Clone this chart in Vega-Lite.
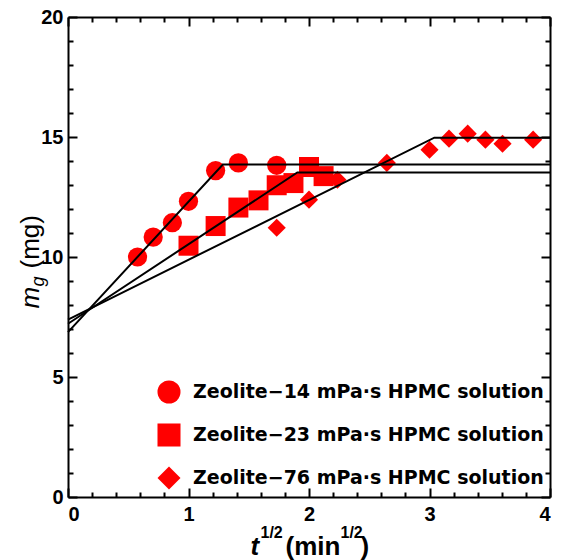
{
  "$schema": "https://vega.github.io/schema/vega-lite/v6.json",
  "width": 482,
  "height": 480,
  "autosize": {"type": "none"},
  "padding": {"left": 68, "top": 17, "right": 11, "bottom": 63},
  "background": "white",
  "config": {
    "view": {"stroke": null},
    "axis": {
      "grid": false,
      "domainColor": "black",
      "domainWidth": 2,
      "tickColor": "black",
      "tickWidth": 2,
      "labelFont": "Liberation Sans",
      "labelFontWeight": "bold",
      "labelFontSize": 20,
      "labelColor": "black",
      "titleColor": "black",
      "titleFont": "Liberation Sans",
      "titleAlign": "left",
      "titleBaseline": "alphabetic"
    },
    "legend": {
      "orient": "none",
      "legendX": 89,
      "legendY": 363,
      "title": null,
      "padding": 0,
      "labelFont": "DejaVu Sans",
      "labelFontWeight": "bold",
      "labelFontSize": 19,
      "labelColor": "black",
      "labelLimit": 0,
      "symbolSize": 530,
      "symbolFillColor": "red",
      "symbolStrokeColor": "red",
      "symbolStrokeWidth": 0,
      "symbolOpacity": 1,
      "rowPadding": 19,
      "labelOffset": 12
    }
  },
  "datasets": {
    "points": [
      {"id": 14, "series": "Zeolite−14 mPa·s HPMC solution", "x": 0.577, "y": 10.0},
      {"id": 14, "series": "Zeolite−14 mPa·s HPMC solution", "x": 0.707, "y": 10.83},
      {"id": 14, "series": "Zeolite−14 mPa·s HPMC solution", "x": 0.866, "y": 11.43},
      {"id": 14, "series": "Zeolite−14 mPa·s HPMC solution", "x": 1.0, "y": 12.32},
      {"id": 14, "series": "Zeolite−14 mPa·s HPMC solution", "x": 1.225, "y": 13.6},
      {"id": 14, "series": "Zeolite−14 mPa·s HPMC solution", "x": 1.414, "y": 13.92},
      {"id": 14, "series": "Zeolite−14 mPa·s HPMC solution", "x": 1.732, "y": 13.82},
      {"id": 23, "series": "Zeolite−23 mPa·s HPMC solution", "x": 1.0, "y": 10.47},
      {"id": 23, "series": "Zeolite−23 mPa·s HPMC solution", "x": 1.225, "y": 11.29},
      {"id": 23, "series": "Zeolite−23 mPa·s HPMC solution", "x": 1.414, "y": 12.06},
      {"id": 23, "series": "Zeolite−23 mPa·s HPMC solution", "x": 1.581, "y": 12.36},
      {"id": 23, "series": "Zeolite−23 mPa·s HPMC solution", "x": 1.732, "y": 12.99},
      {"id": 23, "series": "Zeolite−23 mPa·s HPMC solution", "x": 1.871, "y": 13.08},
      {"id": 23, "series": "Zeolite−23 mPa·s HPMC solution", "x": 2.0, "y": 13.75},
      {"id": 23, "series": "Zeolite−23 mPa·s HPMC solution", "x": 2.121, "y": 13.37},
      {"id": 76, "series": "Zeolite−76 mPa·s HPMC solution", "x": 1.732, "y": 11.22},
      {"id": 76, "series": "Zeolite−76 mPa·s HPMC solution", "x": 2.0, "y": 12.39},
      {"id": 76, "series": "Zeolite−76 mPa·s HPMC solution", "x": 2.236, "y": 13.22},
      {"id": 76, "series": "Zeolite−76 mPa·s HPMC solution", "x": 2.646, "y": 13.92},
      {"id": 76, "series": "Zeolite−76 mPa·s HPMC solution", "x": 3.0, "y": 14.47},
      {"id": 76, "series": "Zeolite−76 mPa·s HPMC solution", "x": 3.162, "y": 14.93},
      {"id": 76, "series": "Zeolite−76 mPa·s HPMC solution", "x": 3.317, "y": 15.14},
      {"id": 76, "series": "Zeolite−76 mPa·s HPMC solution", "x": 3.464, "y": 14.89},
      {"id": 76, "series": "Zeolite−76 mPa·s HPMC solution", "x": 3.606, "y": 14.72},
      {"id": 76, "series": "Zeolite−76 mPa·s HPMC solution", "x": 3.86, "y": 14.89}
    ],
    "fits": [
      {"id": 14, "x": 0, "y": 6.87},
      {"id": 14, "x": 1.285, "y": 13.85},
      {"id": 14, "x": 4, "y": 13.85},
      {"id": 23, "x": 0, "y": 7.22},
      {"id": 23, "x": 1.903, "y": 13.52},
      {"id": 23, "x": 4, "y": 13.52},
      {"id": 76, "x": 0, "y": 7.39},
      {"id": 76, "x": 3.04, "y": 14.97},
      {"id": 76, "x": 4, "y": 14.97}
    ]
  },
  "layer": [
    {
      "data": {"name": "points"},
      "transform": [{"filter": "datum.id == 14"}],
      "mark": {"type": "point", "filled": true, "color": "red", "opacity": 1, "size": 370},
      "encoding": {
        "x": {"field": "x", "type": "quantitative", "scale": {"domain": [0, 4], "nice": false},
          "axis": {"orient": "bottom", "values": [0, 1, 2, 3, 4], "format": "d", "tickSize": -9, "labelPadding": 16,
            "title": "t", "titleFontStyle": "italic", "titleFontWeight": "bold", "titleFontSize": 26, "titleX": 182, "titleY": 57}},
        "y": {"field": "y", "type": "quantitative", "scale": {"domain": [0, 20], "nice": false},
          "axis": {"orient": "left", "values": [0, 5, 10, 15, 20], "format": "d", "tickSize": -9, "labelPadding": 14,
            "title": "m", "titleFontStyle": "italic", "titleFontWeight": "normal", "titleFontSize": 26, "titleAngle": 270, "titleX": -30, "titleY": 291}},
        "shape": {"field": "series", "type": "nominal",
          "scale": {"domain": ["Zeolite−14 mPa·s HPMC solution", "Zeolite−23 mPa·s HPMC solution", "Zeolite−76 mPa·s HPMC solution"], "range": ["circle", "square", "diamond"]}}
      }
    },
    {
      "data": {"name": "points"},
      "transform": [{"filter": "datum.id == 23"}],
      "mark": {"type": "point", "filled": true, "color": "red", "opacity": 1, "size": 400},
      "encoding": {
        "x": {"field": "x", "type": "quantitative", "scale": {"domain": [0, 4], "nice": false},
          "axis": {"orient": "bottom", "values": [0.2, 0.4, 0.6, 0.8, 1.2, 1.4, 1.6, 1.8, 2.2, 2.4, 2.6, 2.8, 3.2, 3.4, 3.6, 3.8], "tickSize": -5, "labels": false, "domain": false,
            "title": "1/2", "titleFontWeight": "bold", "titleFontSize": 16, "titleX": 192, "titleY": 40}},
        "y": {"field": "y", "type": "quantitative", "scale": {"domain": [0, 20], "nice": false},
          "axis": {"orient": "left", "values": [1, 2, 3, 4, 6, 7, 8, 9, 11, 12, 13, 14, 16, 17, 18, 19], "tickSize": -5, "labels": false, "domain": false,
            "title": "g", "titleFontStyle": "italic", "titleFontWeight": "normal", "titleFontSize": 18, "titleAngle": 270, "titleX": -25, "titleY": 269}},
        "shape": {"field": "series", "type": "nominal",
          "scale": {"domain": ["Zeolite−14 mPa·s HPMC solution", "Zeolite−23 mPa·s HPMC solution", "Zeolite−76 mPa·s HPMC solution"], "range": ["circle", "square", "diamond"]}}
      }
    },
    {
      "data": {"name": "points"},
      "transform": [{"filter": "datum.id == 76"}],
      "mark": {"type": "point", "filled": true, "color": "red", "opacity": 1, "size": 330},
      "encoding": {
        "x": {"field": "x", "type": "quantitative", "scale": {"domain": [0, 4], "nice": false},
          "axis": {"orient": "top", "values": [0, 1, 2, 3, 4], "tickSize": -9, "labels": false,
            "title": "(min", "titleFontWeight": "bold", "titleFontSize": 26, "titleX": 217, "titleY": 537}},
        "y": {"field": "y", "type": "quantitative", "scale": {"domain": [0, 20], "nice": false},
          "axis": {"orient": "right", "values": [0, 5, 10, 15, 20], "tickSize": -9, "labels": false,
            "title": "(mg)", "titleFontWeight": "normal", "titleFontSize": 26, "titleAngle": 270, "titleX": -512, "titleY": 251}},
        "shape": {"field": "series", "type": "nominal",
          "scale": {"domain": ["Zeolite−14 mPa·s HPMC solution", "Zeolite−23 mPa·s HPMC solution", "Zeolite−76 mPa·s HPMC solution"], "range": ["circle", "square", "diamond"]}}
      }
    },
    {
      "data": {"name": "fits"},
      "transform": [{"filter": "datum.id == 14"}],
      "mark": {"type": "line", "color": "black", "strokeWidth": 2},
      "encoding": {
        "x": {"field": "x", "type": "quantitative", "scale": {"domain": [0, 4], "nice": false},
          "axis": {"orient": "top", "values": [0.2, 0.4, 0.6, 0.8, 1.2, 1.4, 1.6, 1.8, 2.2, 2.4, 2.6, 2.8, 3.2, 3.4, 3.6, 3.8], "tickSize": -5, "labels": false, "domain": false,
            "title": "1/2", "titleFontWeight": "bold", "titleFontSize": 16, "titleX": 272, "titleY": 520}},
        "y": {"field": "y", "type": "quantitative", "scale": {"domain": [0, 20], "nice": false},
          "axis": {"orient": "right", "values": [1, 2, 3, 4, 6, 7, 8, 9, 11, 12, 13, 14, 16, 17, 18, 19], "tickSize": -5, "labels": false, "domain": false, "title": null}}
      }
    },
    {
      "data": {"name": "fits"},
      "transform": [{"filter": "datum.id == 23"}],
      "mark": {"type": "line", "color": "black", "strokeWidth": 2},
      "encoding": {
        "x": {"field": "x", "type": "quantitative", "scale": {"domain": [0, 4], "nice": false},
          "axis": {"orient": "bottom", "ticks": false, "labels": false, "domain": false,
            "title": ")", "titleFontWeight": "bold", "titleFontSize": 26, "titleX": 292, "titleY": 57}},
        "y": {"field": "y", "type": "quantitative", "scale": {"domain": [0, 20], "nice": false}, "axis": null}
      }
    },
    {
      "data": {"name": "fits"},
      "transform": [{"filter": "datum.id == 76"}],
      "mark": {"type": "line", "color": "black", "strokeWidth": 2},
      "encoding": {
        "x": {"field": "x", "type": "quantitative", "scale": {"domain": [0, 4], "nice": false}, "axis": null},
        "y": {"field": "y", "type": "quantitative", "scale": {"domain": [0, 20], "nice": false}, "axis": null}
      }
    }
  ],
  "resolve": {"axis": {"x": "independent", "y": "independent"}}
}
